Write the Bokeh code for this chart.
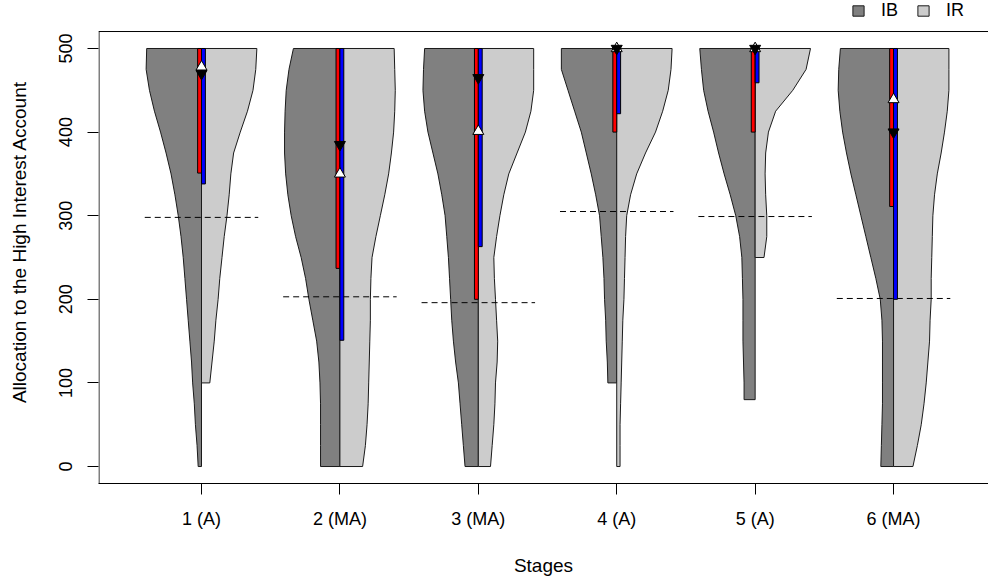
import numpy as np
from bokeh.plotting import figure
from bokeh.models import FixedTicker, Legend, LegendItem, Range1d
from bokeh.embed import file_html
from bokeh.resources import INLINE

# ---------------- data ----------------
stages = ["1 (A)", "2 (MA)", "3 (MA)", "4 (A)", "5 (A)", "6 (MA)"]
positions = [1, 2, 3, 4, 5, 6]

# common density grid (allocation values), top to bottom
grid = [500, 475, 450, 425, 400, 375, 350, 325, 300, 275, 250,
        225, 200, 175, 150, 125, 100, 75, 50, 25, 0]

# relative density of IB (left halves) at grid levels >= minimum
ib_density = [
    [0.99, 1.00, 0.94, 0.85, 0.74, 0.64, 0.55, 0.48, 0.42, 0.37, 0.33,
     0.30, 0.27, 0.24, 0.21, 0.18, 0.16, 0.13, 0.11, 0.08, 0.06],
    [0.84, 0.92, 0.97, 0.99, 1.00, 1.00, 0.98, 0.94, 0.88, 0.80, 0.70,
     0.62, 0.56, 0.49, 0.42, 0.38, 0.36, 0.35, 0.35, 0.35, 0.35],
    [0.97, 0.99, 1.00, 0.97, 0.91, 0.82, 0.73, 0.66, 0.60, 0.57, 0.54,
     0.52, 0.50, 0.48, 0.45, 0.41, 0.36, 0.33, 0.30, 0.27, 0.24],
    [1.00, 1.00, 0.88, 0.76, 0.64, 0.55, 0.46, 0.38, 0.31, 0.28, 0.25,
     0.23, 0.22, 0.20, 0.19, 0.17, 0.16],
    [1.00, 0.97, 0.93, 0.85, 0.75, 0.66, 0.56, 0.45, 0.35, 0.28, 0.24,
     0.23, 0.22, 0.22, 0.22, 0.21, 0.20],
    [0.96, 0.99, 1.00, 0.97, 0.92, 0.85, 0.77, 0.68, 0.59, 0.50, 0.41,
     0.32, 0.24, 0.21, 0.20, 0.20, 0.20, 0.20, 0.21, 0.22, 0.23],
]
# relative density of IR (right halves)
ir_density = [
    [1.00, 0.98, 0.93, 0.83, 0.70, 0.58, 0.53, 0.50, 0.46, 0.41, 0.37,
     0.33, 0.30, 0.26, 0.23, 0.19, 0.15],
    [0.98, 0.99, 1.00, 0.99, 0.97, 0.93, 0.88, 0.81, 0.73, 0.65, 0.58,
     0.56, 0.55, 0.55, 0.54, 0.53, 0.52, 0.51, 0.49, 0.46, 0.41],
    [1.00, 1.00, 1.00, 0.95, 0.85, 0.70, 0.55, 0.46, 0.39, 0.33, 0.28,
     0.29, 0.31, 0.33, 0.35, 0.34, 0.31, 0.30, 0.28, 0.25, 0.22],
    [1.00, 0.98, 0.93, 0.83, 0.70, 0.52, 0.36, 0.25, 0.18, 0.16, 0.15,
     0.14, 0.13, 0.11, 0.10, 0.09, 0.08, 0.07, 0.06, 0.06, 0.06],
    [1.00, 0.92, 0.68, 0.37, 0.24, 0.19, 0.18, 0.19, 0.21, 0.21, 0.16],
    [1.00, 1.00, 1.00, 0.97, 0.92, 0.86, 0.79, 0.74, 0.71, 0.70, 0.69,
     0.68, 0.68, 0.66, 0.65, 0.62, 0.59, 0.55, 0.50, 0.43, 0.35],
]
ib_min = [0, 0, 0, 100, 80, 0]
ir_min = [100, 0, 0, 0, 250, 0]
ib_max = [500, 500, 500, 500, 500, 500]
ir_max = [500, 500, 500, 500, 500, 500]

# summary markers and bars
ib_center = [470, 385, 465, 500, 500, 400]
ir_center = [478, 350, 401, 500, 500, 439]
ib_low = [351, 237, 200, 400, 400, 311]
ib_high = [500, 500, 500, 500, 500, 500]
ir_low = [338, 151, 263, 422, 459, 200]
ir_high = [500, 500, 500, 500, 500, 500]
ref_value = [298, 203, 196, 305, 299, 201]
y_ticks = [0, 100, 200, 300, 400, 500]

# ---------------- styling constants ----------------
HALF_W = 0.40
BAR_W = 0.028
REF_HALF = 0.41
FONT = "Liberation Sans"
FS = "18px"
FS_T = "19px"
DARK = "#808080"
LIGHT = "#CCCCCC"
X0, X1 = 0.2558, 6.686
Y0, YBOX = -20.3, 520.3       # plotting box (drawn lines)
YTOP = 557.4                  # frame extends to page top so the legend fits


def half_violin(c, dens, ymin, ymax, side):
    ys = [g for g in grid if g >= ymin][:len(dens)]
    d = list(dens)
    if ys[-1] != ymin:
        ys.append(ymin)
        d.append(d[-1])
    xs = [c] + [c + side * HALF_W * v for v in d] + [c]
    yy = [ymax] + ys + [ymin]
    return xs, yy


p = figure(width=988, height=580, output_backend="svg", toolbar_location=None,
           x_range=Range1d(X0, X1), y_range=Range1d(Y0, YTOP),
           min_border_left=98, min_border_right=0, min_border_top=0,
           min_border_bottom=97)
p.outline_line_color = None
p.xgrid.visible = False
p.ygrid.visible = False
p.background_fill_color = "white"
p.border_fill_color = "white"

ib_xs, ib_ys, ir_xs, ir_ys = [], [], [], []
for i, c in enumerate(positions):
    xs, ys = half_violin(c, ib_density[i], ib_min[i], ib_max[i], -1)
    ib_xs.append(xs); ib_ys.append(ys)
    xs, ys = half_violin(c, ir_density[i], ir_min[i], ir_max[i], 1)
    ir_xs.append(xs); ir_ys.append(ys)

ib_r = p.patches(ib_xs, ib_ys, fill_color=DARK, line_color="#1a1a1a", line_width=1)
ir_r = p.patches(ir_xs, ir_ys, fill_color=LIGHT, line_color="#1a1a1a", line_width=1)

pos = np.array(positions, dtype=float)
p.segment(x0=pos - REF_HALF, x1=pos + REF_HALF, y0=ref_value, y1=ref_value,
          line_color="black", line_width=1, line_dash="6 4")

p.quad(left=pos - BAR_W, right=pos, bottom=ib_low, top=ib_high,
       fill_color="#FF0000", line_color="black", line_width=1)
p.quad(left=pos, right=pos + BAR_W, bottom=ir_low, top=ir_high,
       fill_color="#0000FF", line_color="black", line_width=1)

p.scatter(pos, ir_center, marker="triangle", size=11,
          fill_color="white", line_color="black", line_width=1)
p.scatter(pos, ib_center, marker="inverted_triangle", size=11,
          fill_color="black", line_color="black", line_width=1)

# box lines: top and left (bottom is the x axis line)
px = (X1 - X0) / 890.0
p.segment(x0=[X0, X0 + 0.5 * px], x1=[X1, X0 + 0.5 * px],
          y0=[YBOX, Y0], y1=[YBOX, YBOX], line_color="black", line_width=1)

# axes
p.xaxis.ticker = FixedTicker(ticks=positions)
p.xaxis.major_label_overrides = {k: v for k, v in zip(positions, stages)}
p.yaxis.ticker = FixedTicker(ticks=y_ticks)
for ax in (p.xaxis[0], p.yaxis[0]):
    ax.minor_tick_line_color = None
    ax.major_tick_in = 0
    ax.major_tick_out = 11
    ax.axis_line_color = "black"
    ax.major_tick_line_color = "black"
    ax.major_label_text_font = FONT
    ax.major_label_text_font_size = FS
    ax.major_label_text_color = "black"
    ax.axis_label_text_font = FONT
    ax.axis_label_text_font_size = FS_T
    ax.axis_label_text_font_style = "normal"
    ax.axis_label_text_color = "black"
p.yaxis.axis_line_color = None
p.yaxis.bounds = (Y0, YBOX)

p.yaxis.major_label_orientation = "vertical"
p.yaxis.major_label_standoff = 15
p.yaxis.axis_label = "Allocation to the High Interest Account"
p.yaxis.axis_label_standoff = 27
p.xaxis.major_label_standoff = 14
p.xaxis.axis_label = "Stages"
p.xaxis.axis_label_standoff = 23

legend = Legend(items=[LegendItem(label="IB", renderers=[ib_r]),
                       LegendItem(label="IR", renderers=[ir_r])],
                orientation="horizontal", location=(753, 462),
                border_line_color=None, background_fill_alpha=0,
                padding=0, margin=0, glyph_width=14, glyph_height=13,
                label_standoff=16, spacing=18, label_width=10, label_height=13,
                label_text_font=FONT, label_text_font_size=FS,
                label_text_color="black")
p.add_layout(legend)

open("out.html", "w").write(file_html(p, INLINE))
